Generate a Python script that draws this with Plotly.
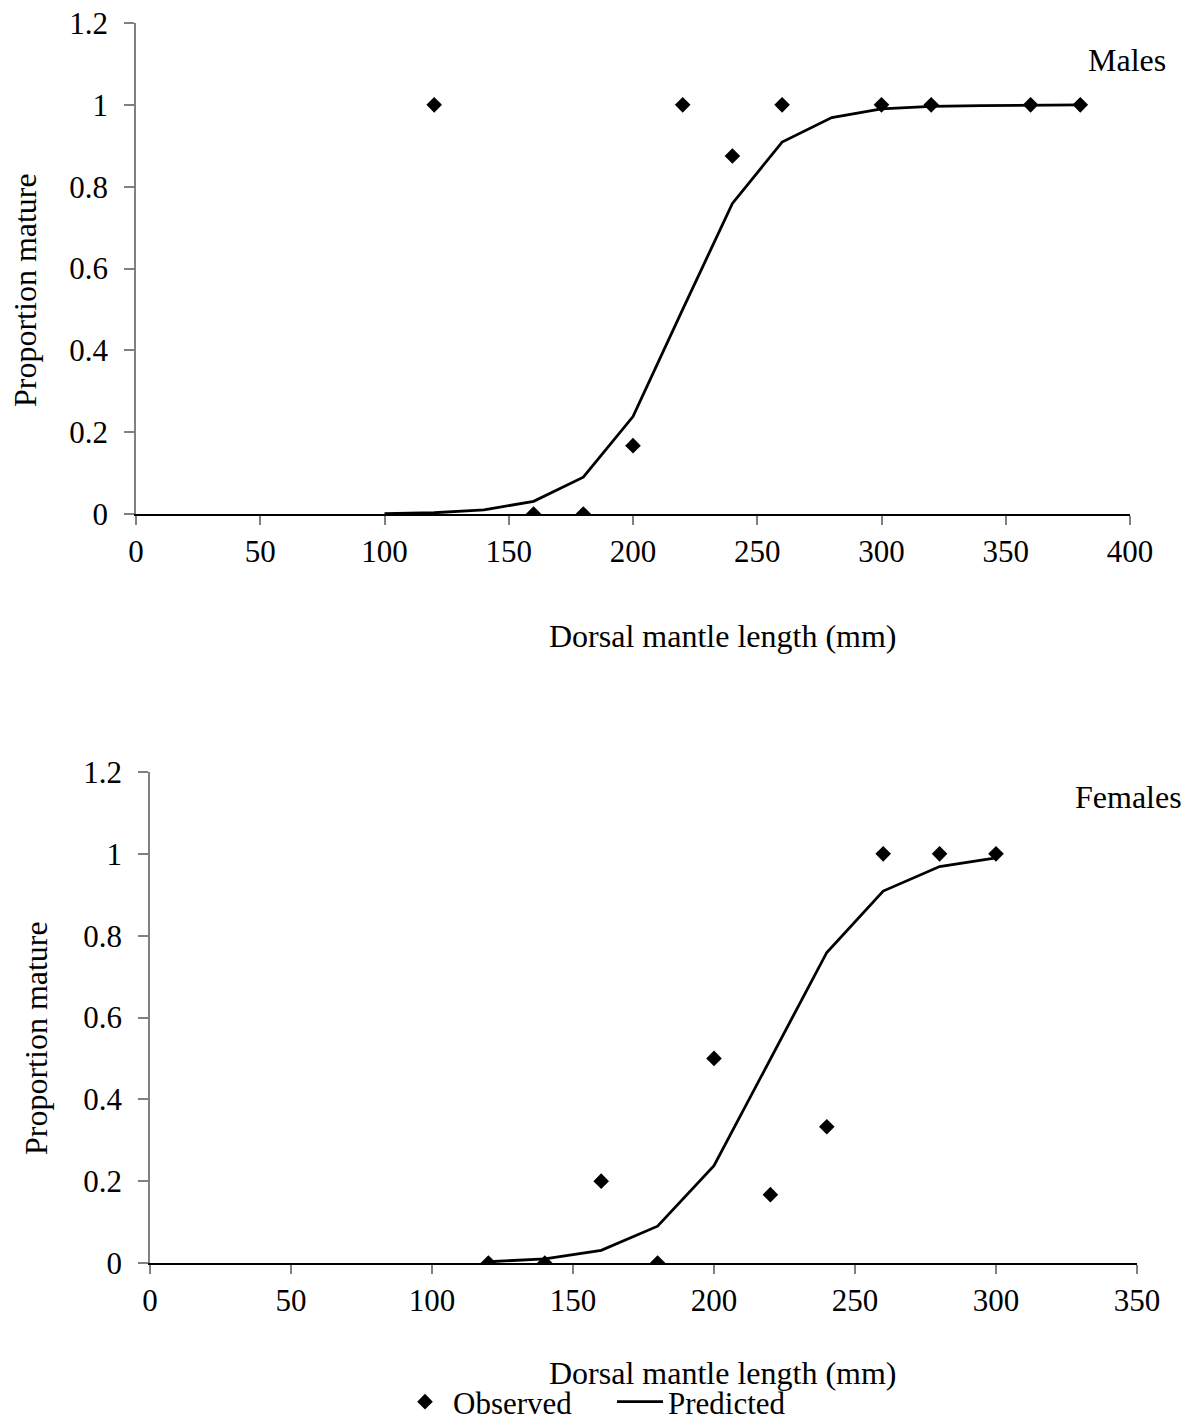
import plotly.graph_objects as go

# ---- data ----
males_obs_x = [120, 160, 180, 200, 220, 240, 260, 300, 320, 360, 380]
males_obs_y = [1.0, 0.0, 0.0, 0.167, 1.0, 0.875, 1.0, 1.0, 1.0, 1.0, 1.0]
males_pred_x = [100, 120, 140, 160, 180, 200, 220, 240, 260, 280, 300, 320, 340, 360, 380]
males_pred_y = [0.001, 0.003, 0.01, 0.031, 0.09, 0.238, 0.5, 0.759, 0.909, 0.969, 0.99, 0.996, 0.998, 0.999, 1.0]

females_obs_x = [120, 140, 160, 180, 200, 220, 240, 260, 280, 300]
females_obs_y = [0.0, 0.0, 0.2, 0.0, 0.5, 0.167, 0.333, 1.0, 1.0, 1.0]
females_pred_x = [120, 140, 160, 180, 200, 220, 240, 260, 280, 300]
females_pred_y = [0.003, 0.01, 0.031, 0.09, 0.238, 0.5, 0.759, 0.909, 0.969, 0.99]

y_ticks = [0, 0.2, 0.4, 0.6, 0.8, 1, 1.2]
y_ticklabels = ["0", "0.2", "0.4", "0.6", "0.8", "1", "1.2"]
top_x_ticks = [0, 50, 100, 150, 200, 250, 300, 350, 400]
bot_x_ticks = [0, 50, 100, 150, 200, 250, 300, 350]

FONT = "Liberation Serif"
W, H, OFF = 1175, 1410, 8


def px(x):
    return (x - OFF) / W


def py(y):
    return 1 - (y - OFF) / H


fig = go.Figure()

fig.add_trace(go.Scatter(x=males_pred_x, y=males_pred_y, mode="lines", name="Predicted",
                         line=dict(color="black", width=2.8), legendrank=2,
                         xaxis="x", yaxis="y", showlegend=True))
fig.add_trace(go.Scatter(x=males_obs_x, y=males_obs_y, mode="markers", name="Observed",
                         marker=dict(symbol="diamond", size=12, color="black"), legendrank=1,
                         xaxis="x", yaxis="y", showlegend=True))
fig.add_trace(go.Scatter(x=females_pred_x, y=females_pred_y, mode="lines", name="Predicted",
                         line=dict(color="black", width=2.8),
                         xaxis="x2", yaxis="y2", showlegend=False))
fig.add_trace(go.Scatter(x=females_obs_x, y=females_obs_y, mode="markers", name="Observed",
                         marker=dict(symbol="diamond", size=12, color="black"),
                         xaxis="x2", yaxis="y2", showlegend=False))

tickfont = dict(family=FONT, size=31, color="black")

xcommon = dict(showgrid=False, zeroline=False, showline=True, linecolor="black", linewidth=1.5,
               ticks="outside", ticklen=9, tickcolor="#808080", tickwidth=1.5,
               tickfont=tickfont, ticklabelstandoff=0, automargin=False,
               ticklabeloverflow="allow")
ycommon = dict(showgrid=False, zeroline=False, showline=True, linecolor="#808080", linewidth=1.5,
               ticks="outside", ticklen=10, tickcolor="#808080", tickwidth=1.5,
               tickfont=tickfont, range=[0, 1.2], tickvals=y_ticks, ticktext=y_ticklabels,
               ticklabelstandoff=10, automargin=False, ticklabeloverflow="allow")

fig.update_layout(
    template="none",
    width=W, height=H,
    margin=dict(l=0, r=0, t=0, b=0, autoexpand=False),
    paper_bgcolor="white", plot_bgcolor="white",
    xaxis=dict(domain=[px(136), px(1130)], range=[0, 400], tickvals=top_x_ticks, anchor="y", **xcommon),
    yaxis=dict(domain=[py(514), py(23)], anchor="x", **ycommon),
    xaxis2=dict(domain=[px(150), px(1137)], range=[0, 350], tickvals=bot_x_ticks, anchor="y2", **xcommon),
    yaxis2=dict(domain=[py(1263), py(772)], anchor="x2", **ycommon),
    legend=dict(orientation="h", x=px(397), y=py(1429), xanchor="left", yanchor="bottom",
                font=dict(family=FONT, size=31, color="black"), bgcolor="rgba(0,0,0,0)",
                borderwidth=0, tracegroupgap=0, itemwidth=46, entrywidth=154,
                entrywidthmode="pixels"),
    showlegend=True,
    font=dict(family=FONT, color="black"),
)

ann_font = dict(family=FONT, size=32, color="black")
fig.add_annotation(text="Males", x=px(1127), y=py(60), xref="paper", yref="paper",
                   showarrow=False, xanchor="center", yanchor="middle", font=ann_font)
fig.add_annotation(text="Females", x=px(1128), y=py(797), xref="paper", yref="paper",
                   showarrow=False, xanchor="center", yanchor="middle", font=ann_font)
fig.add_annotation(text="Dorsal mantle length (mm)", x=px(722), y=py(636), xref="paper", yref="paper",
                   showarrow=False, xanchor="center", yanchor="middle", font=ann_font)
fig.add_annotation(text="Dorsal mantle length (mm)", x=px(722), y=py(1373), xref="paper", yref="paper",
                   showarrow=False, xanchor="center", yanchor="middle", font=ann_font)
fig.add_annotation(text="Proportion mature", x=px(25), y=py(290), xref="paper", yref="paper",
                   showarrow=False, xanchor="center", yanchor="middle", textangle=-90, font=ann_font)
fig.add_annotation(text="Proportion mature", x=px(36), y=py(1038), xref="paper", yref="paper",
                   showarrow=False, xanchor="center", yanchor="middle", textangle=-90, font=ann_font)

fig.write_html("out.html")
